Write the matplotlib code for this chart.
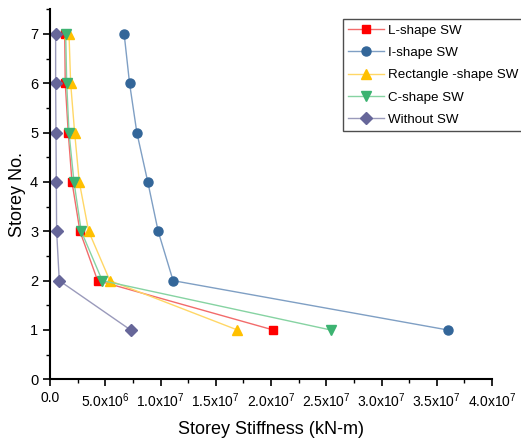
import matplotlib
matplotlib.use("Agg")
import matplotlib.pyplot as plt
from matplotlib.ticker import MultipleLocator, FuncFormatter

plt.rcParams['font.family'] = ['Liberation Sans', 'DejaVu Sans']
plt.rcParams['mathtext.fontset'] = 'custom'
plt.rcParams['mathtext.rm'] = 'Liberation Sans'
plt.rcParams['mathtext.it'] = 'Liberation Sans'
plt.rcParams['mathtext.default'] = 'regular'

storey = [1, 2, 3, 4, 5, 6, 7]

l_shape = [20.2e6, 4.31e6, 2.71e6, 1.99e6, 1.65e6, 1.38e6, 1.33e6]
i_shape = [36.0e6, 11.14e6, 9.79e6, 8.85e6, 7.86e6, 7.20e6, 6.71e6]
rect_shape = [16.96e6, 5.42e6, 3.50e6, 2.65e6, 2.23e6, 1.87e6, 1.72e6]
c_shape = [25.4e6, 4.73e6, 2.83e6, 2.17e6, 1.72e6, 1.51e6, 1.42e6]
without_sw = [7.29e6, 0.84e6, 0.60e6, 0.57e6, 0.54e6, 0.51e6, 0.51e6]

series = [
    ("L-shape SW", l_shape, "s", "#FF0000", "#F26B6B", 5.8),
    ("I-shape SW", i_shape, "o", "#336699", "#7F9FC4", 6.5),
    ("Rectangle -shape SW", rect_shape, "^", "#FFC000", "#FFD766", 7.5),
    ("C-shape SW", c_shape, "v", "#3CB371", "#86D3A2", 7.5),
    ("Without SW", without_sw, "D", "#666699", "#9A9ABB", 6.0),
]

fig = plt.figure(figsize=(5.21, 4.44), dpi=100)
ax = fig.add_axes([50 / 521, (444 - 379.3) / 444, 442 / 521, 370 / 444])

for label, xs, marker, mcol, lcol, ms in series:
    ax.plot(xs, storey, color=lcol, lw=1.0, marker=marker, ms=ms,
            markerfacecolor=mcol, markeredgecolor=mcol, label=label)

ax.set_xlim(0, 4.0e7)
ax.set_ylim(0, 7.5)

ax.xaxis.set_major_locator(MultipleLocator(5e6))
ax.xaxis.set_minor_locator(MultipleLocator(2.5e6))
ax.yaxis.set_major_locator(MultipleLocator(1))
ax.yaxis.set_minor_locator(MultipleLocator(0.5))


def sci_fmt(v, pos):
    if v == 0:
        return "0.0"
    exp = 0
    m = v
    while abs(m) >= 10:
        m /= 10.0
        exp += 1
    return "%.1fx10$^{%d}$" % (m, exp)


ax.xaxis.set_major_formatter(FuncFormatter(sci_fmt))

for s in ("top", "right"):
    ax.spines[s].set_visible(False)
for s in ("left", "bottom"):
    ax.spines[s].set_linewidth(1.5)

ax.tick_params(which="major", direction="out", length=5, width=1.2, labelsize=10)
ax.tick_params(which="minor", direction="out", length=3, width=1.0)
ax.tick_params(axis="y", labelsize=10.5)

ax.set_xlabel("Storey Stiffness (kN-m)", fontsize=13, labelpad=8)
ax.set_ylabel("Storey No.", fontsize=13, labelpad=3)

leg = ax.legend(loc="upper left", bbox_to_anchor=(343 / 521, 1 - 19 / 444),
                bbox_transform=fig.transFigure, fontsize=9.6, frameon=True,
                fancybox=False, edgecolor="#222222", handlelength=2.7,
                labelspacing=0.75, borderpad=0.4, handletextpad=0.3,
                borderaxespad=0)
leg.get_frame().set_linewidth(1.0)

fig.savefig("out.png", dpi=100)
